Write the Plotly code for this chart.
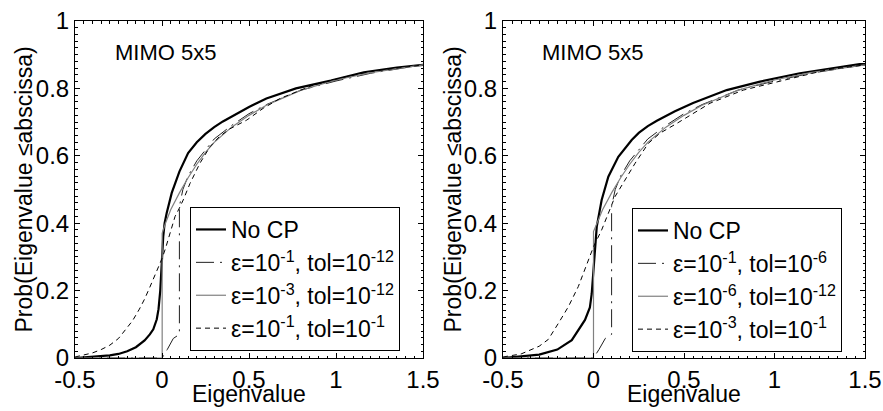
import plotly.graph_objects as go

# ---------------- data ----------------
# Left panel
L_nocp_x = [-0.5, -0.4, -0.3, -0.25, -0.2, -0.15, -0.1, -0.07, -0.05, -0.03, -0.02, -0.01, -0.005, 0.0,
            0.007, 0.015, 0.027, 0.056, 0.1, 0.15, 0.2, 0.25, 0.3, 0.35, 0.4, 0.5, 0.6, 0.77, 0.97, 1.16, 1.35, 1.5]
L_nocp_y = [0.0, 0.003, 0.008, 0.012, 0.02, 0.032, 0.052, 0.07, 0.085, 0.115, 0.145, 0.2, 0.25, 0.3,
            0.36, 0.4, 0.43, 0.49, 0.553, 0.608, 0.64, 0.665, 0.685, 0.702, 0.716, 0.745, 0.77, 0.80, 0.823,
            0.848, 0.862, 0.87]

L_a_x = [-0.5, 0.0, 0.03, 0.065, 0.1, 0.1, 0.12, 0.15, 0.2, 0.3, 0.4, 0.5, 0.6, 0.8, 1.0, 1.2, 1.5]
L_a_y = [0.0, 0.0, 0.025, 0.058, 0.07, 0.45, 0.5, 0.54, 0.585, 0.65, 0.69, 0.725, 0.752, 0.795, 0.822, 0.845, 0.87]

L_b_x = [-0.5, 0.001, 0.001, 0.02, 0.05, 0.1, 0.15, 0.2, 0.25, 0.3, 0.4, 0.5, 0.6, 0.8, 1.0, 1.2, 1.5]
L_b_y = [0.0, 0.0, 0.37, 0.40, 0.44, 0.49, 0.535, 0.575, 0.61, 0.64, 0.685, 0.72, 0.75, 0.795, 0.825, 0.847, 0.87]

L_c_x = [-0.5, -0.4, -0.35, -0.3, -0.25, -0.2, -0.17, -0.13, -0.1, -0.07, -0.04, -0.02, 0.0, 0.02, 0.046,
         0.075, 0.1, 0.122, 0.161, 0.218, 0.276, 0.33, 0.39, 0.487, 0.582, 0.678, 0.87, 1.06, 1.2, 1.35, 1.5]
L_c_y = [0.003, 0.015, 0.025, 0.038, 0.058, 0.09, 0.11, 0.145, 0.175, 0.21, 0.245, 0.27, 0.295, 0.325, 0.37,
         0.42, 0.445, 0.469, 0.518, 0.578, 0.627, 0.657, 0.68, 0.706, 0.741, 0.77, 0.81, 0.835, 0.85, 0.86, 0.87]

# Right panel
R_nocp_x = [-0.5, -0.4, -0.3, -0.2, -0.12, -0.047, -0.02, -0.01, 0.0, 0.005, 0.018, 0.045, 0.082, 0.137,
            0.211, 0.25, 0.3, 0.35, 0.4, 0.45, 0.55, 0.65, 0.736, 0.92, 1.14, 1.47, 1.5]
R_nocp_y = [0.0, 0.004, 0.01, 0.025, 0.053, 0.113, 0.15, 0.19, 0.27, 0.31, 0.39, 0.469, 0.538, 0.597,
            0.647, 0.668, 0.688, 0.704, 0.718, 0.732, 0.757, 0.778, 0.795, 0.82, 0.845, 0.872, 0.872]

R_a_x = [-0.5, 0.0, 0.03, 0.065, 0.1, 0.1, 0.12, 0.15, 0.2, 0.3, 0.4, 0.5, 0.6, 0.8, 1.0, 1.2, 1.5]
R_a_y = [0.0, 0.0, 0.025, 0.058, 0.07, 0.45, 0.5, 0.54, 0.585, 0.65, 0.69, 0.725, 0.752, 0.795, 0.822, 0.845, 0.87]

R_b_x = [-0.5, 0.0, 0.0, 0.02, 0.05, 0.1, 0.15, 0.2, 0.25, 0.3, 0.4, 0.5, 0.6, 0.8, 1.0, 1.2, 1.5]
R_b_y = [0.0, 0.0, 0.375, 0.40, 0.44, 0.49, 0.535, 0.575, 0.61, 0.64, 0.685, 0.72, 0.75, 0.795, 0.825, 0.847, 0.87]

R_c_x = [-0.5, -0.4, -0.3, -0.25, -0.194, -0.139, -0.084, -0.029, 0.0, 0.045, 0.082, 0.119, 0.174, 0.23,
         0.303, 0.367, 0.46, 0.644, 0.828, 1.104, 1.288, 1.5]
R_c_y = [0.003, 0.012, 0.035, 0.055, 0.103, 0.152, 0.212, 0.29, 0.33, 0.38, 0.43, 0.479, 0.528, 0.578,
         0.637, 0.667, 0.696, 0.756, 0.795, 0.83, 0.855, 0.87]

L_names = ["No CP",
           "ε=10<sup>-1</sup>, tol=10<sup>-12</sup>",
           "ε=10<sup>-3</sup>, tol=10<sup>-12</sup>",
           "ε=10<sup>-1</sup>, tol=10<sup>-1</sup>"]
R_names = ["No CP",
           "ε=10<sup>-1</sup>, tol=10<sup>-6</sup>",
           "ε=10<sup>-6</sup>, tol=10<sup>-12</sup>",
           "ε=10<sup>-3</sup>, tol=10<sup>-1</sup>"]

x_ticks = [-0.5, 0, 0.5, 1, 1.5]
x_ticktext = ["-0.5", "0", "0.5", "1", "1.5"]
y_ticks = [0, 0.2, 0.4, 0.6, 0.8, 1]
y_ticktext = ["0", "0.2", "0.4", "0.6", "0.8", "1"]
x_title = "Eigenvalue"
y_title = "Prob(Eigenvalue ≤abscissa)"
panel_label = "MIMO 5x5"

FONT = "Liberation Sans, Arial, DejaVu Sans, sans-serif"
styles = [dict(color="black", width=2.2, dash="solid"),
          dict(color="#202020", width=1, dash="18px,6px,2px,6px"),
          dict(color="#808080", width=1.2, dash="solid"),
          dict(color="black", width=1, dash="5px,4px")]

fig = go.Figure()
panels = [
    ("x", "y", "legend", [(L_nocp_x, L_nocp_y), (L_a_x, L_a_y), (L_b_x, L_b_y), (L_c_x, L_c_y)], L_names),
    ("x2", "y2", "legend2", [(R_nocp_x, R_nocp_y), (R_a_x, R_a_y), (R_b_x, R_b_y), (R_c_x, R_c_y)], R_names),
]
for xa, ya, leg, series, names in panels:
    for (xs, ys), nm, st in zip(series, names, styles):
        fig.add_trace(go.Scatter(x=xs, y=ys, mode="lines", name=nm, line=st,
                                 xaxis=xa, yaxis=ya, legend=leg))

def xaxis(domain, anchor):
    return dict(domain=domain, anchor=anchor, range=[-0.5, 1.5], tickvals=x_ticks, ticktext=x_ticktext,
                ticks="inside", ticklen=5, tickcolor="black", mirror="allticks", showline=True,
                linecolor="black", linewidth=1, showgrid=False, zeroline=False,
                minor=dict(dtick=0.05, tick0=0, ticks="inside", ticklen=2.5, tickcolor="black"),
                tickfont=dict(size=24, color="black", family=FONT),
                automargin=False)

def yaxis(domain, anchor):
    return dict(domain=domain, anchor=anchor, range=[0, 1], tickvals=y_ticks, ticktext=y_ticktext,
                ticks="inside", ticklen=5, tickcolor="black", mirror="allticks", showline=True,
                linecolor="black", linewidth=1, showgrid=False, zeroline=False,
                minor=dict(dtick=0.02, tick0=0, ticks="inside", ticklen=2.5, tickcolor="black"),
                tickfont=dict(size=24, color="black", family=FONT),
                automargin=False)

ydom = [53 / 411, 390 / 411]
leg_common = dict(bgcolor="white", bordercolor="black", borderwidth=1, xanchor="left", yanchor="top",
                  font=dict(size=23, color="black", family=FONT), tracegroupgap=0)

title_font = dict(size=23, color="black", family=FONT)
annotations = []
for xa, ytitle_px, lab_x in [("x", 23, -0.28), ("x2", 452, -0.296)]:
    ya = "y" if xa == "x" else "y2"
    annotations.append(dict(text=x_title, x=0.5, xref=xa + " domain", y=(411 - 394) / 411, yref="paper",
                            xanchor="center", yanchor="middle", showarrow=False, font=title_font))
    annotations.append(dict(text=y_title, x=ytitle_px / 883, xref="paper", y=0.5, yref=ya + " domain",
                            textangle=-90, xanchor="center", yanchor="middle", showarrow=False,
                            font=title_font))
    annotations.append(dict(text=panel_label, x=lab_x, y=0.908, xref=xa, yref=ya, xanchor="left",
                            yanchor="middle", showarrow=False, font=dict(size=22, color="black", family=FONT)))

fig.update_layout(
    width=883, height=411, margin=dict(l=0, r=0, t=0, b=0),
    paper_bgcolor="white", plot_bgcolor="white",
    font=dict(family=FONT, size=23, color="black"),
    xaxis=xaxis([75 / 883, 423 / 883], "y"),
    yaxis=yaxis(ydom, "x"),
    xaxis2=xaxis([503 / 883, 865 / 883], "y2"),
    yaxis2=yaxis(ydom, "x2"),
    legend=dict(x=190 / 883, y=(411 - 207) / 411, **leg_common),
    legend2=dict(x=632 / 883, y=(411 - 208) / 411, **leg_common),
    annotations=annotations,
)

fig.write_html("out.html")
